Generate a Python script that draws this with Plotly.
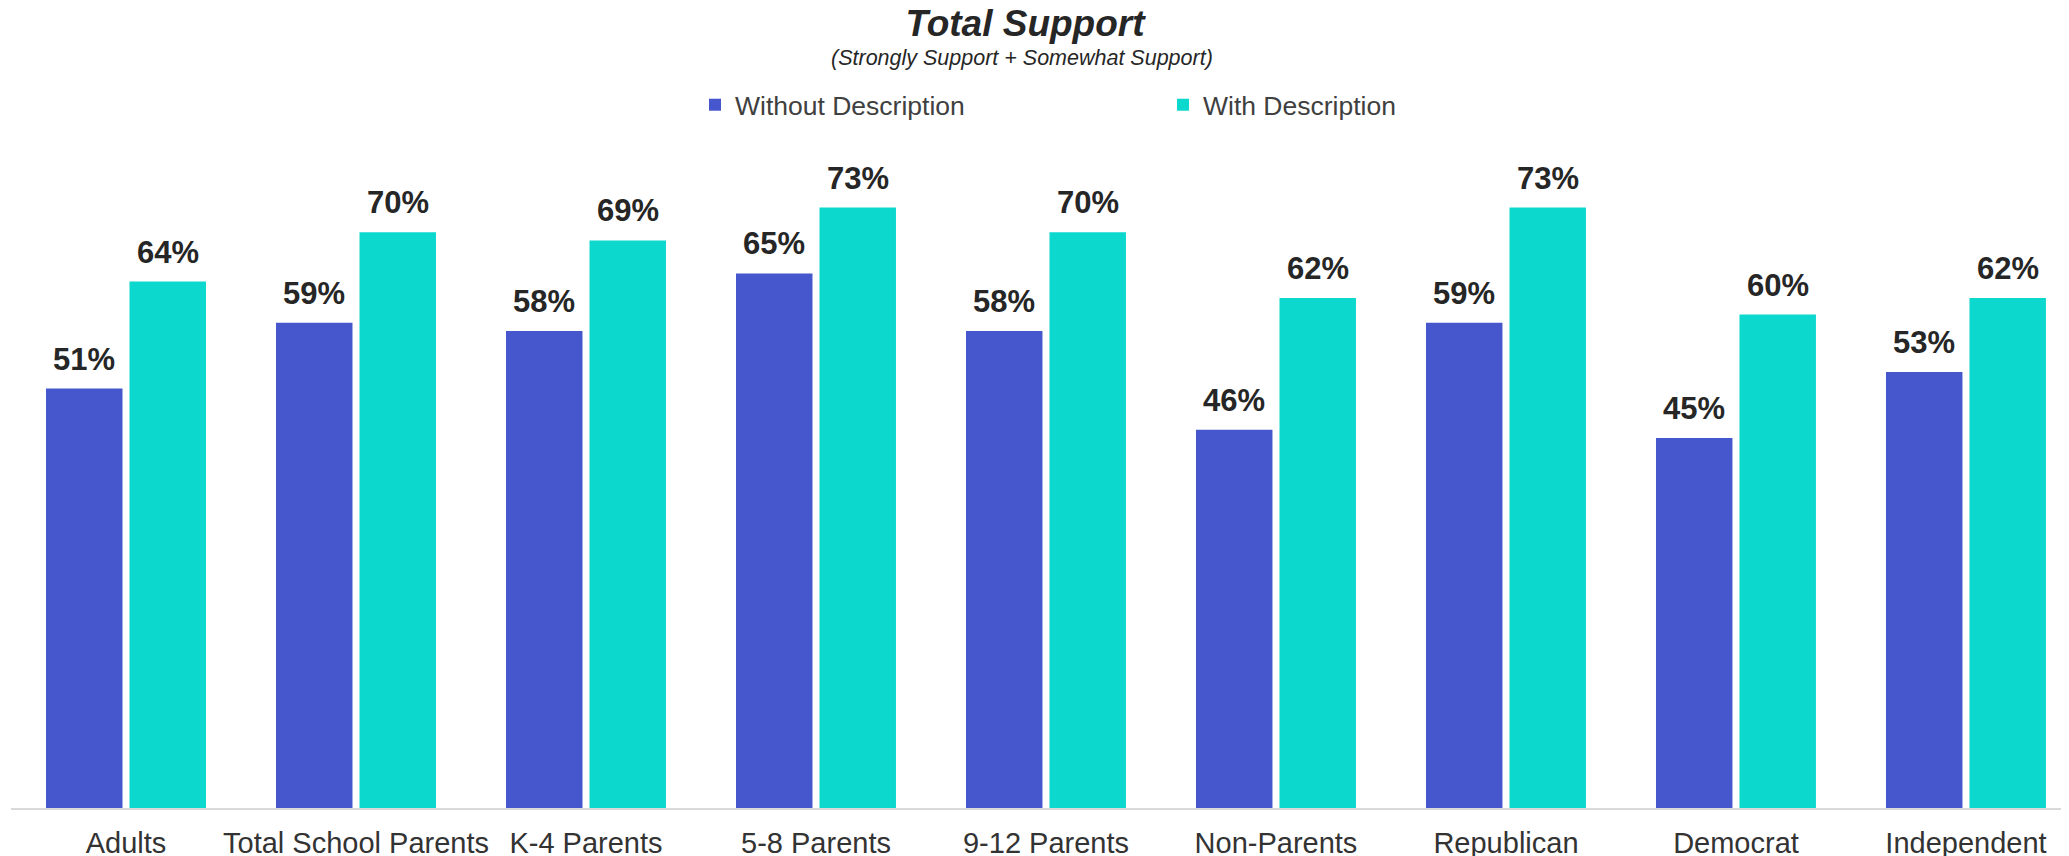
import plotly.graph_objects as go

categories = ["Adults", "Total School Parents", "K-4 Parents", "5-8 Parents",
              "9-12 Parents", "Non-Parents", "Republican", "Democrat", "Independent"]
without_desc = [51, 59, 58, 65, 58, 46, 59, 45, 53]
with_desc = [64, 70, 69, 73, 70, 62, 73, 60, 62]
series_names = ["Without Description", "With Description"]
series_colors = ["#4657CD", "#0DD8CE"]

FONT = "Liberation Sans, Arial, sans-serif"
BARGAP = 0.274
BARGROUPGAP = 0.084
TEXT = "#262626"

# page body has an 8px margin: the figure is sized to fill the rest of the window
PAGE_OFF = 8
W, H = 2069 - PAGE_OFF, 856 - PAGE_OFF
ML, MR, MT, MB = 3, 0, 142, 48
plot_w = W - ML - MR
plot_h = H - MT - MB

fig = go.Figure()
for name, vals, col in zip(series_names, [without_desc, with_desc], series_colors):
    fig.add_trace(go.Bar(x=categories, y=vals, name=name,
                         marker=dict(color=col, line=dict(width=0)),
                         hoverinfo="x+y"))

# data labels above each bar, placed on the axis via index +/- group offset
half = (1 - BARGAP) / 4
annotations = []
for si, vals in enumerate([without_desc, with_desc]):
    off = -half if si == 0 else half
    for i, v in enumerate(vals):
        annotations.append(dict(x=i + off, y=v, xref="x", yref="y",
                                text=f"<b>{v}%</b>", showarrow=False,
                                yanchor="bottom", xanchor="center", yshift=10,
                                font=dict(family=FONT, size=31, color=TEXT)))

annotations.append(dict(x=(1022 - PAGE_OFF - ML) / plot_w,
                        y=1 + (MT - (58.5 - PAGE_OFF)) / plot_h,
                        xref="paper", yref="paper", xanchor="center", yanchor="middle",
                        text="<i>(Strongly Support + Somewhat Support)</i>",
                        showarrow=False, font=dict(family=FONT, size=21.5, color=TEXT)))

fig.update_layout(
    width=W, height=H,
    margin=dict(l=ML, r=MR, t=MT, b=MB, autoexpand=False),
    paper_bgcolor="white", plot_bgcolor="white",
    barmode="group", bargap=BARGAP, bargroupgap=BARGROUPGAP,
    title=dict(text="<b><i>Total Support</i></b>", x=(1025 - PAGE_OFF) / W, xanchor="center",
               y=1 - (23 - PAGE_OFF) / H, yanchor="middle", yref="container",
               font=dict(family=FONT, size=37, color=TEXT)),
    legend=dict(orientation="h", x=(695 - PAGE_OFF - ML) / plot_w, xanchor="left",
                y=1 + (MT - (105 - PAGE_OFF)) / plot_h, yanchor="middle",
                entrywidth=423, entrywidthmode="pixels",
                font=dict(family=FONT, size=26.5, color="#404040"),
                bgcolor="rgba(0,0,0,0)", traceorder="normal"),
    annotations=annotations,
    showlegend=True,
)
fig.update_xaxes(range=[-0.5, 8.448], showline=True, linecolor="#D9D9D9", linewidth=2,
                 showgrid=False, zeroline=False, ticks="", automargin=False,
                 tickfont=dict(family=FONT, size=29, color="#333333"),
                 ticklabelstandoff=8)
fig.update_yaxes(range=[0, 80], visible=False, showgrid=False, zeroline=False,
                 automargin=False)

fig.write_html("out.html")
